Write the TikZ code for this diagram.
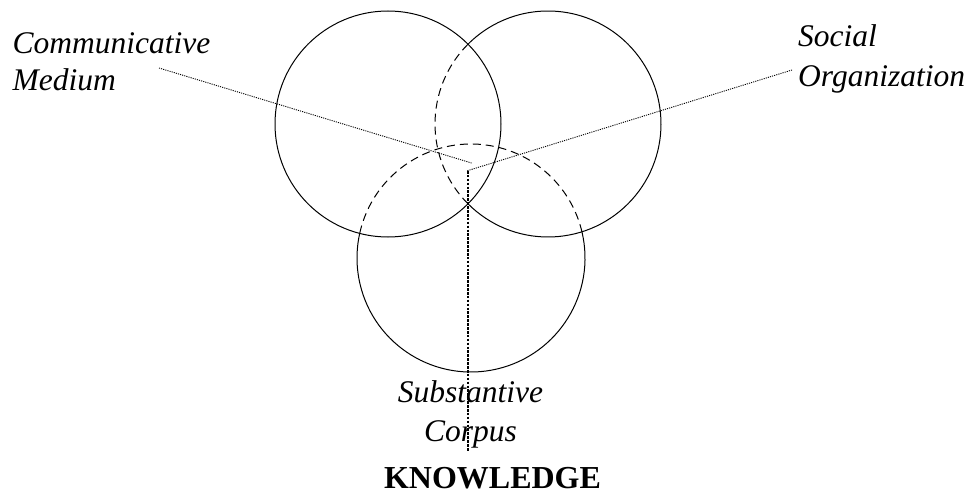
\documentclass[tikz,border=0pt]{standalone}
\usepackage{fontspec}
\setmainfont{Liberation Serif}
\begin{document}
\begin{tikzpicture}[x=1pt,y=-1pt,
  ring/.style={line width=1pt,black},
  ringdash/.style={line width=1pt,black,dash pattern=on 8pt off 5pt},
  leader/.style={line width=0.9pt,black,dash pattern=on 1.1pt off 1.1pt},
  stem/.style={line width=1.7pt,black,dash pattern=on 2.6pt off 1.3pt},
  lbl/.style={inner sep=0pt,font=\fontsize{31.5}{38}\selectfont\itshape},
  title/.style={inner sep=0pt,font=\fontsize{32}{38}\selectfont\bfseries}]
\useasboundingbox (0,0) rectangle (967,500);
% circles
\coordinate (cl) at (388,124);
\coordinate (cr) at (548,124);
\coordinate (cb) at (471,258);
\draw[ring] (cl) circle[radius=113];
\draw[ring] (cr) ++(135.1:113) arc[start angle=135.1,end angle=-135.1,radius=113];
\draw[ringdash] (cr) ++(135.1:113) arc[start angle=135.1,end angle=224.9,radius=113];
\draw[ring] (cb) ++(-13.3:114) arc[start angle=-13.3,end angle=192.5,radius=114];
\draw[ringdash] (cb) ++(-167.5:114) arc[start angle=-167.5,end angle=-13.3,radius=114];
% labels
\node[lbl,anchor=base west] (cm1) at (12.5,53.3) {Communicative};
\node[lbl,anchor=base west] (cm2) at (12.5,90.7) {Medium};
\node[lbl,anchor=base west] (so1) at (798,46.7) {Social};
\node[lbl,anchor=base west] (so2) at (798,86.7) {Organization};
\node[lbl,anchor=base] (sc1) at (470.5,402.3) {Substantive};
\node[lbl,anchor=base] (sc2) at (470.5,441.7) {Corpus};
\node[title,anchor=base] (kn) at (492.5,488.3) {KNOWLEDGE};
% leader lines
\coordinate (cmEnd) at (159,68);
\coordinate (cmHub) at (472.5,163.3);
\coordinate (soEnd) at (792,70);
\coordinate (hub) at (466.5,171);
\coordinate (stemEnd) at (467.7,451);
\draw[leader] (cmEnd) -- (cmHub);
\draw[leader] (soEnd) -- (hub);
\draw[stem] (hub -| stemEnd) -- (stemEnd);
\end{tikzpicture}
\end{document}
